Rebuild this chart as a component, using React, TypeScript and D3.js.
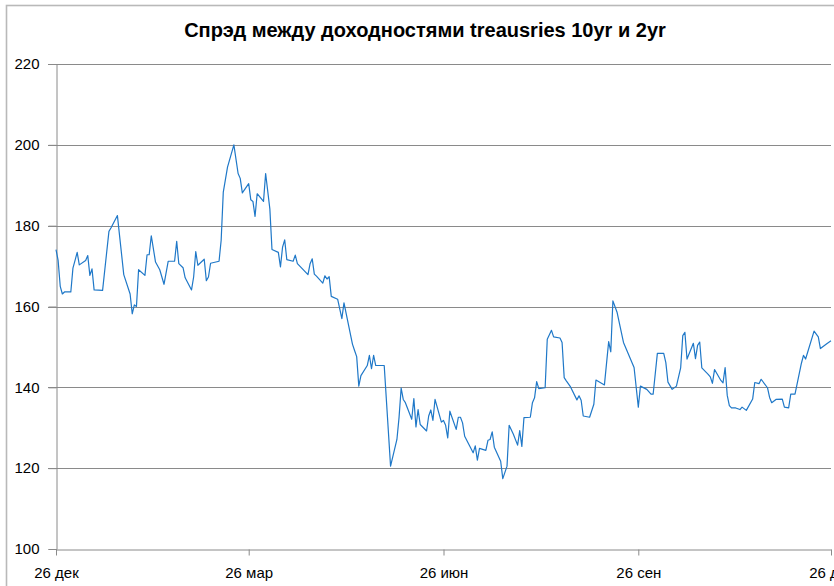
import React, { useEffect, useRef } from "react";
import * as d3 from "d3";

const TITLE = "Спрэд между доходностями treausries 10yr и 2yr";

const dates: string[] = [
  "2011-12-26","2011-12-27","2011-12-28","2011-12-29","2011-12-30",
  "2012-01-02","2012-01-03","2012-01-04","2012-01-05","2012-01-06",
  "2012-01-09","2012-01-10","2012-01-11","2012-01-12","2012-01-13",
  "2012-01-17","2012-01-20","2012-01-21","2012-01-24","2012-01-27",
  "2012-01-30","2012-01-31","2012-02-01","2012-02-02","2012-02-03",
  "2012-02-06","2012-02-07","2012-02-08","2012-02-09","2012-02-11",
  "2012-02-13","2012-02-15","2012-02-17","2012-02-20","2012-02-21",
  "2012-02-22","2012-02-24","2012-02-25","2012-02-28","2012-02-29",
  "2012-03-01","2012-03-02","2012-03-05","2012-03-06","2012-03-07",
  "2012-03-08","2012-03-12","2012-03-13","2012-03-14","2012-03-16",
  "2012-03-19","2012-03-21","2012-03-22","2012-03-23","2012-03-26",
  "2012-03-27","2012-03-28","2012-03-29","2012-03-30","2012-04-02",
  "2012-04-03","2012-04-05","2012-04-06","2012-04-09","2012-04-10",
  "2012-04-11","2012-04-12","2012-04-13","2012-04-16","2012-04-17",
  "2012-04-18","2012-04-23","2012-04-24","2012-04-25","2012-04-26",
  "2012-04-27","2012-04-30","2012-05-01","2012-05-02","2012-05-03",
  "2012-05-04","2012-05-07","2012-05-09","2012-05-10","2012-05-14",
  "2012-05-15","2012-05-16","2012-05-17","2012-05-18","2012-05-21",
  "2012-05-22","2012-05-23","2012-05-24","2012-05-25","2012-05-29",
  "2012-06-01","2012-06-04","2012-06-05","2012-06-06","2012-06-07",
  "2012-06-08","2012-06-11","2012-06-12","2012-06-13","2012-06-14",
  "2012-06-15","2012-06-18","2012-06-19","2012-06-20","2012-06-21",
  "2012-06-22","2012-06-25","2012-06-26","2012-06-27","2012-06-28",
  "2012-06-29","2012-07-02","2012-07-03","2012-07-04","2012-07-05",
  "2012-07-06","2012-07-10","2012-07-11","2012-07-12","2012-07-13",
  "2012-07-16","2012-07-17","2012-07-18","2012-07-19","2012-07-20",
  "2012-07-23","2012-07-24","2012-07-26","2012-07-27","2012-07-29",
  "2012-07-31","2012-08-01","2012-08-02","2012-08-03","2012-08-06",
  "2012-08-07","2012-08-08","2012-08-09","2012-08-10","2012-08-13",
  "2012-08-14","2012-08-16","2012-08-17","2012-08-20","2012-08-21",
  "2012-08-22","2012-08-23","2012-08-25","2012-08-28","2012-08-29",
  "2012-08-30","2012-08-31","2012-09-03","2012-09-05","2012-09-06",
  "2012-09-10","2012-09-12","2012-09-13","2012-09-14","2012-09-16",
  "2012-09-19","2012-09-24","2012-09-26","2012-09-27","2012-09-30",
  "2012-10-02","2012-10-03","2012-10-05","2012-10-08","2012-10-09",
  "2012-10-10","2012-10-12","2012-10-14","2012-10-16","2012-10-17",
  "2012-10-18","2012-10-19","2012-10-22","2012-10-23","2012-10-24",
  "2012-10-25","2012-10-26","2012-10-29","2012-10-30","2012-10-31",
  "2012-11-01","2012-11-04","2012-11-05","2012-11-06","2012-11-07",
  "2012-11-08","2012-11-09","2012-11-11","2012-11-13","2012-11-14",
  "2012-11-16","2012-11-19","2012-11-20","2012-11-22","2012-11-23",
  "2012-11-26","2012-11-27","2012-11-28","2012-11-30","2012-12-03",
  "2012-12-04","2012-12-06","2012-12-07","2012-12-09","2012-12-12",
  "2012-12-13","2012-12-14","2012-12-18","2012-12-20","2012-12-21",
  "2012-12-24","2012-12-26",
];

const spread: number[] = [
  174.1,171.4,165.0,163.1,163.6,
  163.6,169.5,171.4,173.4,170.3,
  171.4,172.6,167.7,169.3,164.1,
  164.0,178.6,179.5,182.5,167.9,
  163.1,158.2,160.4,160.0,169.1,
  167.7,172.8,172.8,177.5,171.0,
  169.1,165.5,171.2,171.2,176.1,
  170.6,169.6,167.1,164.1,167.3,
  173.6,170.2,171.7,166.4,167.3,
  170.7,171.2,176.4,188.3,194.5,
  200.0,192.9,191.7,188.1,190.4,
  186.4,186.0,182.3,187.9,186.0,
  192.9,184.1,174.1,173.4,169.8,
  174.7,176.5,171.6,171.2,172.7,
  170.6,167.9,170.6,171.8,168.0,
  167.5,165.8,167.6,166.8,167.4,
  162.5,161.8,157.0,160.9,150.7,
  149.1,147.6,140.3,142.9,145.4,
  147.9,144.6,147.9,145.4,145.4,
  120.5,127.1,132.5,139.8,137.0,
  136.2,132.1,137.2,130.2,134.5,
  130.8,129.2,132.9,134.4,131.8,
  137.0,131.4,131.8,130.6,127.5,
  134.1,129.6,132.6,132.6,131.2,
  127.9,123.8,125.5,122.0,124.9,
  124.4,126.9,127.1,129.0,125.2,
  121.7,117.4,120.5,130.6,128.4,
  125.7,129.3,125.4,132.5,132.6,
  136.2,137.4,141.4,139.7,139.9,
  151.9,154.1,152.5,152.2,151.1,
  142.4,141.6,140.1,136.9,137.9,
  136.8,132.9,132.6,135.8,141.8,
  140.6,151.3,148.8,161.4,158.5,
  151.1,144.9,135.1,140.3,139.5,
  138.3,138.3,148.4,148.4,146.1,
  141.3,139.5,140.3,144.8,152.8,
  153.6,147.0,150.9,147.1,150.4,
  151.2,144.8,143.2,142.6,141.0,
  144.4,141.7,141.1,144.9,138.0,
  135.5,134.9,134.9,134.5,135.1,
  134.3,137.1,141.2,140.9,142.0,
  139.9,137.5,136.2,137.0,137.1,
  135.1,134.9,138.3,138.3,145.9,
  147.9,147.0,153.9,152.5,149.6,
  150.8,151.5,
];

const xTickDates: string[] = ["2011-12-26", "2012-03-26", "2012-06-26", "2012-09-26", "2012-12-26"];
const xTickLabels: string[] = ["26 дек", "26 мар", "26 июн", "26 сен", "26 дек"];
const yTicks: number[] = [100, 120, 140, 160, 180, 200, 220];

const W = 834;
const H = 586;
const M = { left: 56, right: 3, top: 64, bottom: 37 };
const FONT = "'Liberation Sans Narrow', 'Arial Narrow', 'Liberation Sans', Arial, sans-serif";

export default function App() {
  const ref = useRef<SVGSVGElement>(null);

  useEffect(() => {
    const svg = d3.select(ref.current);
    svg.selectAll("*").remove();
    const parse = d3.utcParse("%Y-%m-%d");
    const data = dates.map((d, i) => ({ date: parse(d) as Date, value: spread[i] }));

    const x = d3
      .scaleUtc()
      .domain([parse(xTickDates[0]) as Date, parse(xTickDates[xTickDates.length - 1]) as Date])
      .range([M.left, W - M.right]);
    const y = d3.scaleLinear().domain([100, 220]).range([H - M.bottom, M.top]);

    // chart border
    svg
      .append("rect")
      .attr("x", 6.5)
      .attr("y", 5.5)
      .attr("width", W + 40)
      .attr("height", H + 40)
      .attr("fill", "#fff")
      .attr("stroke", "#b9b9b9")
      .attr("stroke-width", 1.6);

    // title
    svg
      .append("text")
      .attr("x", 425)
      .attr("y", 37)
      .attr("text-anchor", "middle")
      .attr("font-family", FONT)
      .attr("font-weight", "bold")
      .attr("font-size", 20)
      .attr("fill", "#000")
      .text(TITLE);

    // gridlines
    const grid = svg.append("g");
    grid
      .selectAll("line")
      .data(yTicks.filter((t) => t !== 100))
      .join("line")
      .attr("x1", M.left - 8)
      .attr("x2", W - M.right)
      .attr("y1", (d) => Math.round(y(d)) + 0.5)
      .attr("y2", (d) => Math.round(y(d)) + 0.5)
      .attr("stroke", "#8a8a8a")
      .attr("stroke-width", 1);

    // y axis
    const yAxis = svg
      .append("g")
      .attr("transform", `translate(${M.left + 0.5},0)`)
      .call(
        d3
          .axisLeft(y)
          .tickValues(yTicks)
          .tickSize(8)
          .tickPadding(9)
          .tickFormat((d) => String(d))
      );
    yAxis.select(".domain").attr("stroke", "#8a8a8a");
    yAxis.selectAll(".tick line").attr("stroke", "#8a8a8a");
    yAxis
      .selectAll(".tick text")
      .attr("font-family", FONT)
      .attr("font-size", 15)
      .attr("fill", "#000");

    // x axis
    const xAxis = svg
      .append("g")
      .attr("transform", `translate(0,${Math.round(y(100)) + 0.5})`)
      .call(
        d3
          .axisBottom(x)
          .tickValues(xTickDates.map((d) => parse(d) as Date))
          .tickSize(6)
          .tickSizeOuter(0)
          .tickPadding(12)
          .tickFormat((_d, i) => xTickLabels[i])
      );
    xAxis.select(".domain").attr("stroke", "#8a8a8a");
    xAxis.selectAll(".tick line").attr("stroke", "#8a8a8a");
    xAxis
      .selectAll(".tick text")
      .attr("font-family", FONT)
      .attr("font-size", 15)
      .attr("fill", "#000");

    // line
    const line = d3
      .line<{ date: Date; value: number }>()
      .x((d) => x(d.date))
      .y((d) => y(d.value));
    svg
      .append("path")
      .datum(data)
      .attr("d", line)
      .attr("fill", "none")
      .attr("stroke", "#1f78c8")
      .attr("stroke-width", 1.2)
      .attr("stroke-linejoin", "round");
  }, []);

  return (
    <svg
      ref={ref}
      width={W}
      height={H}
      style={{ position: "absolute", left: 0, top: 0, background: "#fff" }}
    />
  );
}
